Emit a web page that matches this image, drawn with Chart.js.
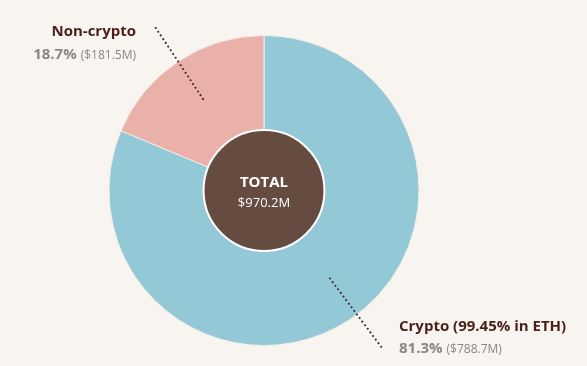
<!DOCTYPE html>
<html>
<head>
<meta charset="utf-8">
<script src="https://cdn.jsdelivr.net/npm/chart.js@4.4.1/dist/chart.umd.min.js"></script>
<style>
  html, body { margin: 0; padding: 0; background: #f8f5f0; }
  #wrap { position: relative; width: 587px; height: 366px; }
</style>
</head>
<body>
<div id="wrap"><canvas id="grafica"></canvas></div>
<script>
// Datos del gráfico
const categorias = ["Crypto (99.45% in ETH)", "Non-crypto"];
const porcentajes = [81.3, 18.7];
const importes = ["$788.7M", "$181.5M"];
const colores = ["#93c8d6", "#e9b1a9"];
const totalTexto = "$970.2M";

const fuente = "'Open Sans', 'Liberation Sans', sans-serif";

// Dibujar puntos de una línea punteada
function lineaPuntos(ctx, x1, y1, x2, y2) {
  const largo = Math.hypot(x2 - x1, y2 - y1);
  const n = Math.round(largo / 4.6);
  ctx.fillStyle = "#3b2722";
  for (let i = 0; i <= n; i++) {
    const t = i / n;
    ctx.beginPath();
    ctx.arc(x1 + (x2 - x1) * t, y1 + (y2 - y1) * t, 1.05, 0, Math.PI * 2);
    ctx.fill();
  }
}

// Plugin: círculo central, líneas guía y etiquetas
const etiquetasPlugin = {
  id: "etiquetas",
  afterDatasetsDraw(chart) {
    const ctx = chart.ctx;
    const arcos = chart.getDatasetMeta(0).data;
    const cx = arcos[0].x, cy = arcos[0].y, r = arcos[0].outerRadius;

    // líneas guía (la de crypto va un poco girada respecto al centro del sector)
    const ajuste = [-3.2 * Math.PI / 180, 0];
    arcos.forEach((arco, i) => {
      const ang = (arco.startAngle + arco.endAngle) / 2 + ajuste[i];
      lineaPuntos(ctx,
        cx + Math.cos(ang) * r * 0.71, cy + Math.sin(ang) * r * 0.71,
        cx + Math.cos(ang) * r * 1.26, cy + Math.sin(ang) * r * 1.26);
    });

    // círculo central
    ctx.save();
    ctx.beginPath();
    ctx.arc(cx, cy, r * 0.39, 0, Math.PI * 2);
    ctx.fillStyle = "#664b40";
    ctx.fill();
    ctx.lineWidth = 2;
    ctx.strokeStyle = "#ffffff";
    ctx.stroke();

    ctx.fillStyle = "#ffffff";
    ctx.textAlign = "center";
    ctx.textBaseline = "alphabetic";
    ctx.font = "bold 15px " + fuente;
    ctx.fillText("TOTAL", cx, cy - 4);
    ctx.font = "13px " + fuente;
    ctx.fillText(totalTexto, cx, cy + 16);

    // etiqueta Non-crypto (alineada a la derecha)
    const derecha = 136;
    ctx.textAlign = "right";
    ctx.font = "bold 15px " + fuente;
    ctx.fillStyle = "#4a1f19";
    ctx.fillText(categorias[1], derecha, 36);
    ctx.font = "12px " + fuente;
    ctx.fillStyle = "#8a8784";
    const imp1 = "(" + importes[1] + ")";
    ctx.fillText(imp1, derecha, 59);
    const w1 = ctx.measureText(imp1).width;
    ctx.font = "bold 15px " + fuente;
    ctx.fillText(porcentajes[1] + "%", derecha - w1 - 4, 59);

    // etiqueta Crypto (alineada a la izquierda)
    const izq = 399;
    ctx.textAlign = "left";
    ctx.font = "bold 15px " + fuente;
    ctx.fillStyle = "#4a1f19";
    ctx.fillText(categorias[0], izq, 331);
    ctx.font = "bold 15px " + fuente;
    ctx.fillStyle = "#8a8784";
    const p0 = porcentajes[0] + "%";
    ctx.fillText(p0, izq, 353);
    const w0 = ctx.measureText(p0).width;
    ctx.font = "12px " + fuente;
    ctx.fillText("(" + importes[0] + ")", izq + w0 + 4, 353);
    ctx.restore();
  }
};

const ctx = document.getElementById("grafica").getContext("2d");
new Chart(ctx, {
  type: "pie",
  data: {
    labels: categorias,
    datasets: [{
      data: porcentajes,
      backgroundColor: colores,
      borderColor: "#f4ebe6",
      borderWidth: 1
    }]
  },
  options: {
    responsive: true,
    maintainAspectRatio: false,
    animation: false,
    layout: { padding: { left: 108, right: 167, top: 35, bottom: 20 } },
    plugins: { legend: { display: false }, tooltip: { enabled: false } }
  },
  plugins: [etiquetasPlugin]
});
</script>
</body>
</html>
